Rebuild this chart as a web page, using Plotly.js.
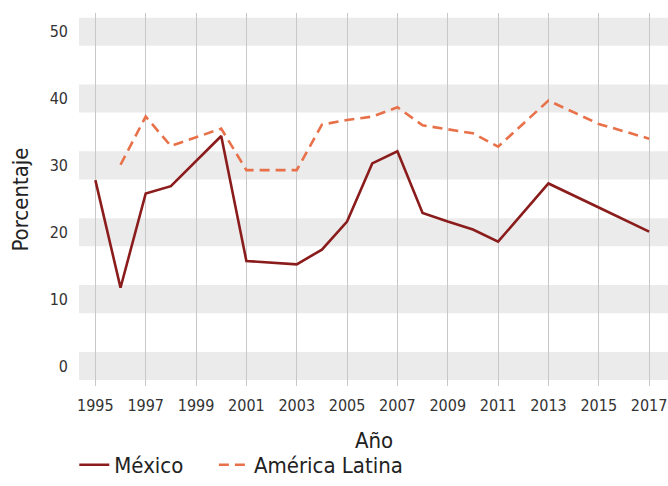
<!DOCTYPE html>
<html>
<head>
<meta charset="utf-8">
<script src="https://cdn.plot.ly/plotly-3.0.1.min.js"></script>
<style>
html,body{margin:0;padding:0;background:#fff}
#chart{width:668px;height:486px}
#chart svg text{font-stretch:condensed !important;}
</style>
</head>
<body>
<div id="chart"></div>
<script>
const mexYears = [1995,1996,1997,1998,2000,2001,2003,2004,2005,2006,2007,2008,2009,2010,2011,2013,2015,2017];
const mexValues = [27.8,11.7,25.8,26.9,34.4,15.7,15.2,17.4,21.6,30.3,32.1,22.9,21.6,20.4,18.6,27.3,23.7,20.1];
const latYears = [1996,1997,1998,2000,2001,2003,2004,2005,2006,2007,2008,2009,2010,2011,2013,2015,2017];
const latValues = [30.1,37.3,32.9,35.5,29.3,29.3,36.1,36.8,37.3,38.7,36.0,35.4,34.8,32.8,39.7,36.2,34.0];
const xTicks = [1995,1997,1999,2001,2003,2005,2007,2009,2011,2013,2015,2017];
const yTicks = [0,10,20,30,40,50];
const xTitle = 'Año';
const yTitle = 'Porcentaje';

const FONT = "'DejaVu Sans Condensed','DejaVu Sans',sans-serif";

const traces = [
  {x: mexYears, y: mexValues, name: 'México', type: 'scatter', mode: 'lines',
   legend: 'legend', line: {color: '#8b1c1c', width: 2.6}},
  {x: latYears, y: latValues, name: 'América Latina', type: 'scatter', mode: 'lines',
   legend: 'legend2', line: {color: '#e8714a', width: 2.6, dash: '10px,6px'}}
];

const shapes = yTicks.map(t => ({
  type: 'rect', xref: 'paper', yref: 'y', x0: 0, x1: 1, y0: t - 2.1, y1: t + 2.1,
  fillcolor: '#ebebeb', line: {width: 0}, layer: 'below'
}));

const legendBase = {orientation: 'h', xanchor: 'left', yref: 'container', y: 0.0, yanchor: 'bottom',
                    font: {size: 22, color: '#222'}, bgcolor: 'rgba(0,0,0,0)'};

const layout = {
  width: 668, height: 486,
  margin: {l: 79, r: 0, t: 13, b: 100},
  paper_bgcolor: '#fff', plot_bgcolor: '#fff',
  font: {family: FONT, color: '#333', size: 16},
  showlegend: true,
  legend: Object.assign({}, legendBase, {x: -0.008}),
  legend2: Object.assign({}, legendBase, {x: 0.229}),
  xaxis: {range: [1994.35, 2017.75], tickvals: xTicks, ticktext: xTicks.map(String),
          showgrid: true, gridcolor: '#c8c8c8', gridwidth: 1,
          zeroline: false, showline: false, ticks: '',
          ticklabelstandoff: 8},
  yaxis: {range: [-3, 52.8], tickvals: yTicks, ticktext: yTicks.map(String),
          showgrid: false, zeroline: false, showline: false, ticks: '',
          ticklabelstandoff: 10,
          title: {text: yTitle, font: {size: 22, color: '#222'}, standoff: 14}},
  annotations: [{text: xTitle, xref: 'paper', yref: 'paper', x: 0.5, y: -0.145,
                 xanchor: 'center', yanchor: 'middle', showarrow: false,
                 font: {size: 22, color: '#222'}}],
  shapes: shapes
};

Plotly.newPlot('chart', traces, layout, {displayModeBar: false, staticPlot: true});
</script>
</body>
</html>
